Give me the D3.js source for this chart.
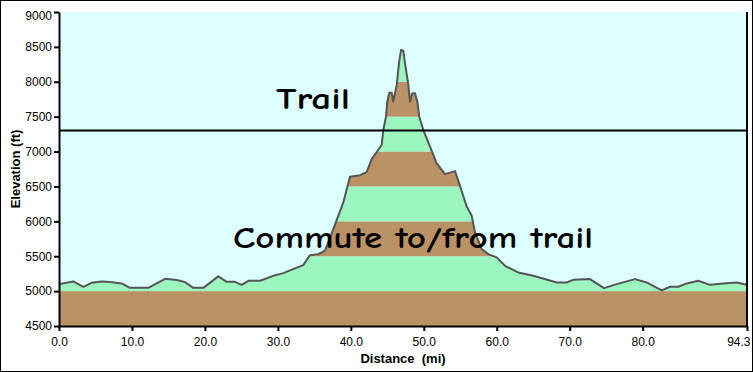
<!DOCTYPE html>
<html>
<head>
<meta charset="utf-8">
<script src="https://cdn.jsdelivr.net/npm/d3@7"></script>
<style>
  html, body { margin: 0; padding: 0; background: #ffffff; }
  svg { display: block; }
</style>
</head>
<body>
<svg id="chart" width="753" height="372"></svg>
<script>
// ---- data ----
const distances = [0.0, 1.96, 3.33, 4.48, 5.85, 6.99, 8.59, 9.73, 12.24, 14.53, 16.13, 17.27, 18.41, 19.78,
  21.83, 22.99, 24.12, 25.04, 25.95, 27.55, 29.37, 30.74, 32.35, 33.48, 34.40, 35.54, 36.46, 37.60,
  38.97, 39.88, 41.26, 42.17, 42.86, 44.23, 44.45, 44.82, 45.00, 45.27, 45.60, 45.82, 46.29, 46.60,
  46.88, 47.19, 47.42, 47.88, 48.11, 48.42, 48.79, 49.11, 49.38, 49.93, 50.85, 51.77, 52.91, 54.28,
  54.96, 55.88, 56.57, 57.02, 57.94, 58.84, 59.99, 61.13, 62.95, 65.01, 68.22, 69.59, 70.49, 72.78,
  74.70, 76.44, 78.95, 80.55, 82.61, 83.75, 84.88, 86.03, 87.62, 89.23, 91.05, 92.89, 94.3];
const elevations = [5100, 5139, 5062, 5119, 5139, 5129, 5110, 5047, 5047, 5176, 5158, 5129, 5047, 5047,
  5211, 5133, 5133, 5090, 5148, 5148, 5219, 5258, 5325, 5373, 5515, 5530, 5580, 5889,
  6271, 6640, 6662, 6705, 6891, 7094, 7309, 7500, 7715, 7844, 7844, 7715, 7954, 8266,
  8457, 8447, 8266, 7954, 7715, 7835, 7835, 7715, 7500, 7309, 7070, 6831, 6677, 6720,
  6509, 6213, 6079, 5840, 5602, 5530, 5483, 5363, 5268, 5219, 5124, 5124, 5162, 5172,
  5043, 5100, 5172, 5124, 5010, 5062, 5062, 5110, 5148, 5090, 5110, 5124, 5090];
const bandBottoms = [4500, 5000, 5500, 6000, 6500, 7000, 7500, 8000, 8500];
const yTicks = [4500, 5000, 5500, 6000, 6500, 7000, 7500, 8000, 8500, 9000];
const xTicks = [0, 10, 20, 30, 40, 50, 60, 70, 80, 94.3];
const trailElevation = 7300;
const labels = ["Trail", "Commute to/from trail"];

// ---- layout ----
const svg = d3.select("#chart");
const pLeft = 59, pRight = 747, pTop = 12, pBottom = 326;
const x = d3.scaleLinear().domain([0, 94.3]).range([pLeft, pRight]);
const y = d3.scaleLinear().domain([4500, 9000]).range([pBottom, pTop]);

const profile = distances.map((d, i) => ({ d, e: elevations[i] }));

// outer frame
svg.append("rect").attr("x", 0.5).attr("y", 0.5).attr("width", 752).attr("height", 371)
  .attr("fill", "#ffffff").attr("stroke", "#000").attr("stroke-width", 1);

// plot background
svg.append("rect").attr("x", pLeft).attr("y", pTop).attr("width", pRight - pLeft).attr("height", pBottom - pTop)
  .attr("fill", "#ddffff");

// clip for terrain
const area = d3.area().x(p => x(p.d)).y0(y(4500)).y1(p => y(p.e));
svg.append("clipPath").attr("id", "terrain").append("path").attr("d", area(profile));

const g = svg.append("g").attr("clip-path", "url(#terrain)");
g.selectAll("rect.band").data(bandBottoms).enter().append("rect")
  .attr("class", "band")
  .attr("x", pLeft).attr("width", pRight - pLeft)
  .attr("y", b => y(b + 500)).attr("height", b => y(b) - y(b + 500))
  .attr("fill", (b, i) => i % 2 === 0 ? "#bb9265" : "#9cf6c0");
// faint dotted lines in brown bands
g.selectAll("line.dot").data(bandBottoms.filter((b, i) => i % 2 === 0)).enter().append("line")
  .attr("x1", pLeft).attr("x2", pRight)
  .attr("y1", b => y(b + 500) + 3.5).attr("y2", b => y(b + 500) + 3.5)
  .attr("stroke", "#a9825a").attr("stroke-width", 1).attr("stroke-dasharray", "1,7");

// profile line
const line = d3.line().x(p => x(p.d)).y(p => y(p.e));
svg.append("path").attr("d", line(profile)).attr("fill", "none")
  .attr("stroke", "#555555").attr("stroke-width", 2).attr("stroke-linejoin", "round");

// trail line
svg.append("line").attr("x1", pLeft).attr("x2", pRight)
  .attr("y1", y(trailElevation)).attr("y2", y(trailElevation))
  .attr("stroke", "#000").attr("stroke-width", 2);

// axes
const yAxis = svg.append("g").attr("transform", `translate(${pLeft},0)`)
  .call(d3.axisLeft(y).tickValues(yTicks).tickSize(5).tickSizeOuter(0).tickPadding(2).tickFormat(d3.format("d")));
const xAxis = svg.append("g").attr("transform", `translate(0,${pBottom})`)
  .call(d3.axisBottom(x).tickValues(xTicks).tickSize(5).tickSizeOuter(0).tickPadding(6).tickFormat(d3.format(".1f")));
[yAxis, xAxis].forEach(a => {
  a.select(".domain").attr("stroke", "#000").attr("stroke-width", 2);
  a.selectAll(".tick line").attr("stroke", "#000").attr("stroke-width", 2);
  a.selectAll("text").attr("fill", "#000")
    .style("font-family", "'Liberation Sans', Arial, sans-serif").style("font-size", "12px");
});
yAxis.selectAll(".tick").filter(d => d === 9000).select("text").attr("dy", "0.62em");
xAxis.selectAll(".tick").filter(d => d === 94.3).select("text").attr("text-anchor", "end").attr("x", 3);
// right border
svg.append("line").attr("x1", pRight).attr("x2", pRight).attr("y1", pTop).attr("y2", pBottom + 1)
  .attr("stroke", "#000").attr("stroke-width", 2);

// axis titles
svg.append("text").attr("x", 403).attr("y", 363).attr("text-anchor", "middle")
  .style("font-family", "'Liberation Sans', Arial, sans-serif").style("font-size", "13px").style("font-weight", "bold")
  .attr("xml:space", "preserve").text("Distance  (mi)");
svg.append("text").attr("transform", "translate(20,169) rotate(-90)").attr("text-anchor", "middle")
  .style("font-family", "'Liberation Sans', Arial, sans-serif").style("font-size", "13px").style("font-weight", "bold")
  .text("Elevation (ft)");

// annotations
const annFont = "'Comic Sans MS', 'Comic Neue', 'Noto Sans', sans-serif";
svg.append("text").attr("x", 276).attr("y", 109)
  .style("font-family", annFont).style("font-size", "30px").style("font-weight", "bold")
  .attr("textLength", 74).attr("lengthAdjust", "spacingAndGlyphs").text(labels[0]);
svg.append("text").attr("x", 233).attr("y", 248)
  .style("font-family", annFont).style("font-size", "30px").style("font-weight", "bold")
  .attr("textLength", 360).attr("lengthAdjust", "spacingAndGlyphs").text(labels[1]);
</script>
</body>
</html>
